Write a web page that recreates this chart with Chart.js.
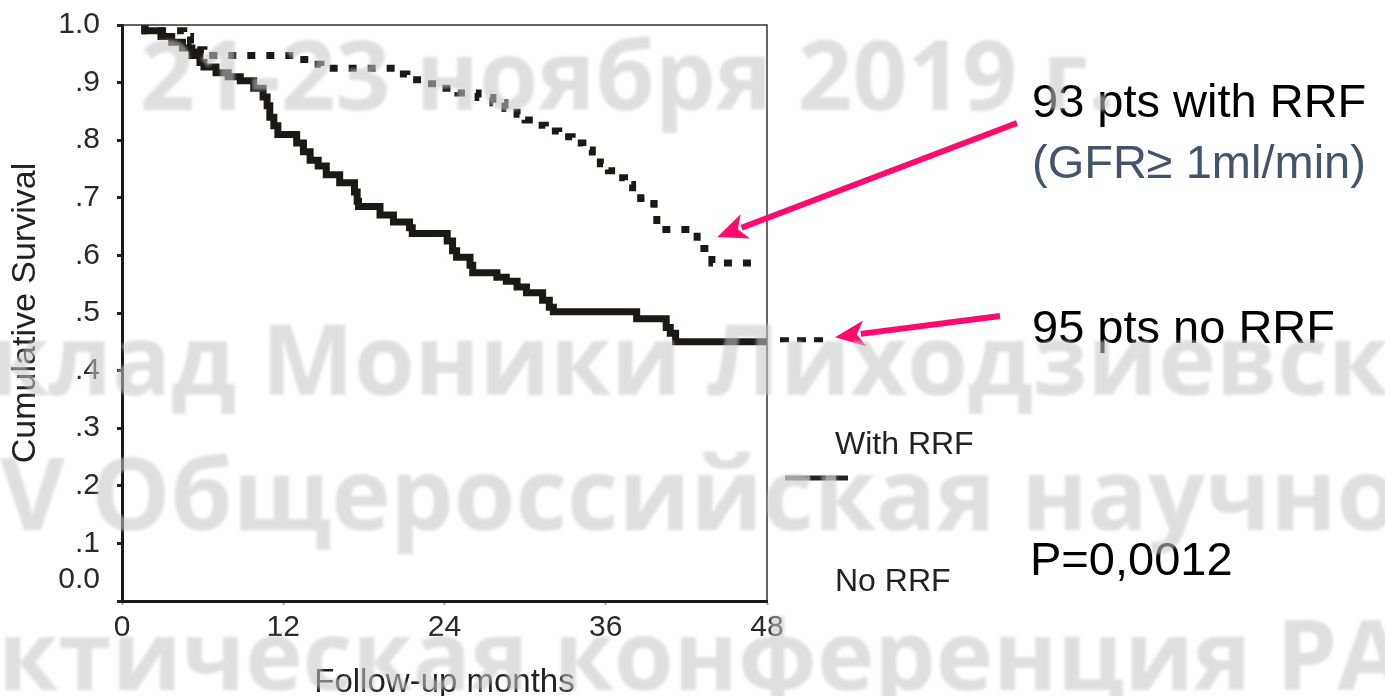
<!DOCTYPE html>
<html>
<head>
<meta charset="utf-8">
<title>Cumulative Survival</title>
<script src="https://cdn.jsdelivr.net/npm/chart.js@4.4.1/dist/chart.umd.min.js"></script>
<style>
  html, body { margin: 0; padding: 0; background: #fff; }
  #survival-chart { display: block; }
</style>
</head>
<body>
<canvas id="survival-chart" width="1385" height="696"></canvas>
<script>
/* Kaplan-Meier curves: follow-up month where survival steps down, and the new value */
let seriesNames = ['With RRF', 'No RRF']

let withRrfMonths = [1.7, 4.6, 5.1, 5.6, 6.1, 13.2, 14.0, 14.8, 20.3, 21.2, 22.3, 23.8, 25.0, 26.5, 27.6,
    28.5, 29.4, 30.0, 30.6, 31.5, 32.5, 33.5, 34.3, 35.0, 35.6, 36.2, 36.8, 37.4, 38.0, 38.6, 39.2,
    39.6, 39.8, 42.8, 43.9, 44.1, 47.5]
let withRrfSurvival = [1.0, .99, .98, .968, .957, .947, .94, .932, .925, .915, .905, .898, .89, .882, .874,
    .865, .855, .845, .835, .826, .816, .806, .795, .783, .771, .759, .747, .735, .723, .711, .699,
    .69, .679, .645, .612, .587, .587]

let noRrfMonths = [1.7, 2.9, 3.7, 4.5, 5.2, 5.8, 6.1, 7.0, 7.9, 8.8, 9.8, 10.5, 10.8, 11.0, 11.3, 11.6,
    13.0, 13.5, 14.0, 14.6, 15.2, 16.2, 17.3, 17.5, 17.6, 19.2, 20.2, 21.4, 21.6, 24.2, 24.6, 24.9,
    25.9, 26.1, 27.9, 28.6, 29.4, 30.1, 31.3, 31.8, 32.1, 38.3, 40.5, 40.8, 41.2, 42.8, 48]
let noRrfSurvival = [1.0, .99, .98, .97, .96, .947, .935, .927, .917, .91, .903, .89, .875, .86, .84, .825,
    .81, .795, .78, .765, .755, .74, .726, .71, .694, .685, .67, .658, .648, .638, .625, .608,
    .597, .583, .57, .562, .555, .545, .535, .522, .51, .502, .49, .475, .465, .45, .45]

let yTickLabels = ['0.0', '.1', '.2', '.3', '.4', '.5', '.6', '.7', '.8', '.9', '1.0']

let groupNotes = ['93 pts with RRF', '(GFR\u2265 1ml/min)', '95 pts no RRF']
let pValueText = 'P=0,0012'

let watermarkLines = ['21-23 ноября 2019 г.', 'клад Моники Лиходзиевск', 'V Общероссийская научно', 'ктическая конференция РА']

let lineColor = '#1c1915'
let arrowColor = '#ff0a6e'
let textFont = '"Liberation Sans", Arial, sans-serif'

function toPoints(months, values) {
    return months.map((m, i) => ({ x: m, y: values[i] }))
}

function drawArrow(ctx, fromX, fromY, toX, toY) {
    let angle = Math.atan2(toY - fromY, toX - fromX)
    let head = 30, half = 13
    let baseX = toX - head * Math.cos(angle)
    let baseY = toY - head * Math.sin(angle)
    ctx.beginPath()
    ctx.moveTo(fromX, fromY)
    ctx.lineTo(baseX + 4 * Math.cos(angle), baseY + 4 * Math.sin(angle))
    ctx.stroke()
    ctx.beginPath()
    ctx.moveTo(toX, toY)
    ctx.lineTo(baseX + half * Math.sin(angle), baseY - half * Math.cos(angle))
    ctx.lineTo(baseX + 8 * Math.cos(angle), baseY + 8 * Math.sin(angle))
    ctx.lineTo(baseX - half * Math.sin(angle), baseY + half * Math.cos(angle))
    ctx.closePath()
    ctx.fill()
}

// keep the plot box exactly where the layout padding puts it
function noLabelOverflow(s) {
    s.paddingTop = 0
    s.paddingBottom = 0
    s.paddingLeft = 0
    s.paddingRight = 0
}

// frame, legend, notes, arrows and the faint overprint text
let decorations = {
    id: 'decorations',
    afterDraw(chart) {
        let { ctx, chartArea, scales: { x, y } } = chart
        ctx.save()

        // thin top and right edges of the plot box
        ctx.strokeStyle = '#333'
        ctx.lineWidth = 1.5
        ctx.beginPath()
        ctx.moveTo(chartArea.left, chartArea.top)
        ctx.lineTo(chartArea.right, chartArea.top)
        ctx.lineTo(chartArea.right, chartArea.bottom)
        ctx.stroke()

        // no-RRF curve runs on past 48 months as a dotted tail
        let tailY = y.getPixelForValue(noRrfSurvival[noRrfSurvival.length - 1]) - 2
        ctx.strokeStyle = lineColor
        ctx.lineWidth = 5
        ctx.setLineDash([9, 8])
        ctx.beginPath()
        ctx.moveTo(chartArea.right + 13, tailY)
        ctx.lineTo(chartArea.right + 60, tailY)
        ctx.stroke()
        ctx.setLineDash([])

        // legend
        ctx.fillStyle = '#222'
        ctx.font = '32px ' + textFont
        ctx.textBaseline = 'alphabetic'
        ctx.textAlign = 'left'
        ctx.fillText(seriesNames[0], 835, 454)
        ctx.fillText(seriesNames[1], 835, 591)
        ctx.lineWidth = 5
        let swatch = [['#777', 785, 810], ['#222', 810, 826], ['#777', 826, 836], ['#222', 836, 848]]
        swatch.forEach(([c, a, b]) => {
            ctx.strokeStyle = c
            ctx.beginPath()
            ctx.moveTo(a, 478)
            ctx.lineTo(b, 478)
            ctx.stroke()
        })

        // group notes
        ctx.font = '47px ' + textFont
        ctx.fillStyle = '#000'
        ctx.fillText(groupNotes[0], 1032, 117)
        ctx.fillStyle = '#44546a'
        ctx.fillText(groupNotes[1], 1032, 178)
        ctx.fillStyle = '#000'
        ctx.fillText(groupNotes[2], 1032, 343)
        ctx.fillText(pValueText, 1030, 575)

        // arrows to the curves
        ctx.strokeStyle = arrowColor
        ctx.fillStyle = arrowColor
        ctx.lineWidth = 6
        drawArrow(ctx, 1017, 123, x.getPixelForValue(44.3), y.getPixelForValue(0.632))
        drawArrow(ctx, 1000, 316, chartArea.right + 68, y.getPixelForValue(0.458))

        // faint overprint lettering
        ctx.filter = 'blur(1.5px)'
        ctx.fillStyle = 'rgba(198, 198, 198, 0.56)'
        ctx.font = 'bold 96px "Open Sans", sans-serif'
        ctx.fillText(watermarkLines[0], 140, 110)
        ctx.font = 'bold 98px "Open Sans", sans-serif'
        ctx.fillText(watermarkLines[1], -12, 395)
        ctx.font = 'bold 100px "Open Sans", sans-serif'
        ctx.fillText(watermarkLines[2], 0, 530)
        ctx.font = 'bold 97px "Open Sans", sans-serif'
        ctx.fillText(watermarkLines[3], -2, 690)
        ctx.restore()
    }
}

let chartCanvas = document.querySelector('#survival-chart')
let ctx = chartCanvas.getContext('2d')

let survivalChart = new Chart(ctx, {
    type: 'line',
    data: {
        datasets: [
            {
                label: seriesNames[0],
                data: toPoints(withRrfMonths, withRrfSurvival),
                borderColor: lineColor,
                borderWidth: 7,
                borderDash: [8, 11],
                stepped: 'after',
                pointRadius: 0,
                fill: false
            },
            {
                label: seriesNames[1],
                data: toPoints(noRrfMonths, noRrfSurvival),
                borderColor: lineColor,
                borderWidth: 7,
                stepped: 'after',
                pointRadius: 0,
                fill: false
            }
        ]
    },
    options: {
        responsive: false,
        animation: false,
        layout: { padding: { left: 0, top: 25, right: 618, bottom: 0 } },
        plugins: {
            legend: { display: false },
            tooltip: { enabled: false }
        },
        scales: {
            x: {
                type: 'linear',
                min: 0,
                max: 48,
                afterFit: s => { s.height = 95; noLabelOverflow(s) },
                ticks: {
                    stepSize: 12,
                    padding: 5,
                    color: '#2a2a2a',
                    font: { family: textFont, size: 30 }
                },
                grid: { drawOnChartArea: false, tickLength: 4, tickColor: '#aaa', tickWidth: 2 },
                border: { display: true, color: '#1a1a1a', width: 3 },
                title: {
                    display: true,
                    text: 'Follow-up months',
                    color: '#222',
                    padding: { top: 0, bottom: 0 },
                    font: { family: textFont, size: 33, lineHeight: 0.8 }
                }
            },
            y: {
                min: 0,
                max: 1,
                afterFit: s => { s.width = 122; noLabelOverflow(s) },
                ticks: {
                    stepSize: 0.1,
                    autoSkip: false,
                    padding: 17,
                    color: '#2a2a2a',
                    font: { family: textFont, size: 30, lineHeight: 1.4 },
                    callback: (value, index) => index === 0 ? [yTickLabels[0], ''] : yTickLabels[index]
                },
                grid: { drawOnChartArea: false, tickLength: 5, tickColor: '#222', tickWidth: 3 },
                border: { display: true, color: '#1a1a1a', width: 3 },
                title: {
                    display: true,
                    text: 'Cumulative Survival',
                    color: '#222',
                    padding: { top: 5, bottom: 0 },
                    font: { family: textFont, size: 34 }
                }
            }
        }
    },
    plugins: [decorations]
})
</script>
</body>
</html>
